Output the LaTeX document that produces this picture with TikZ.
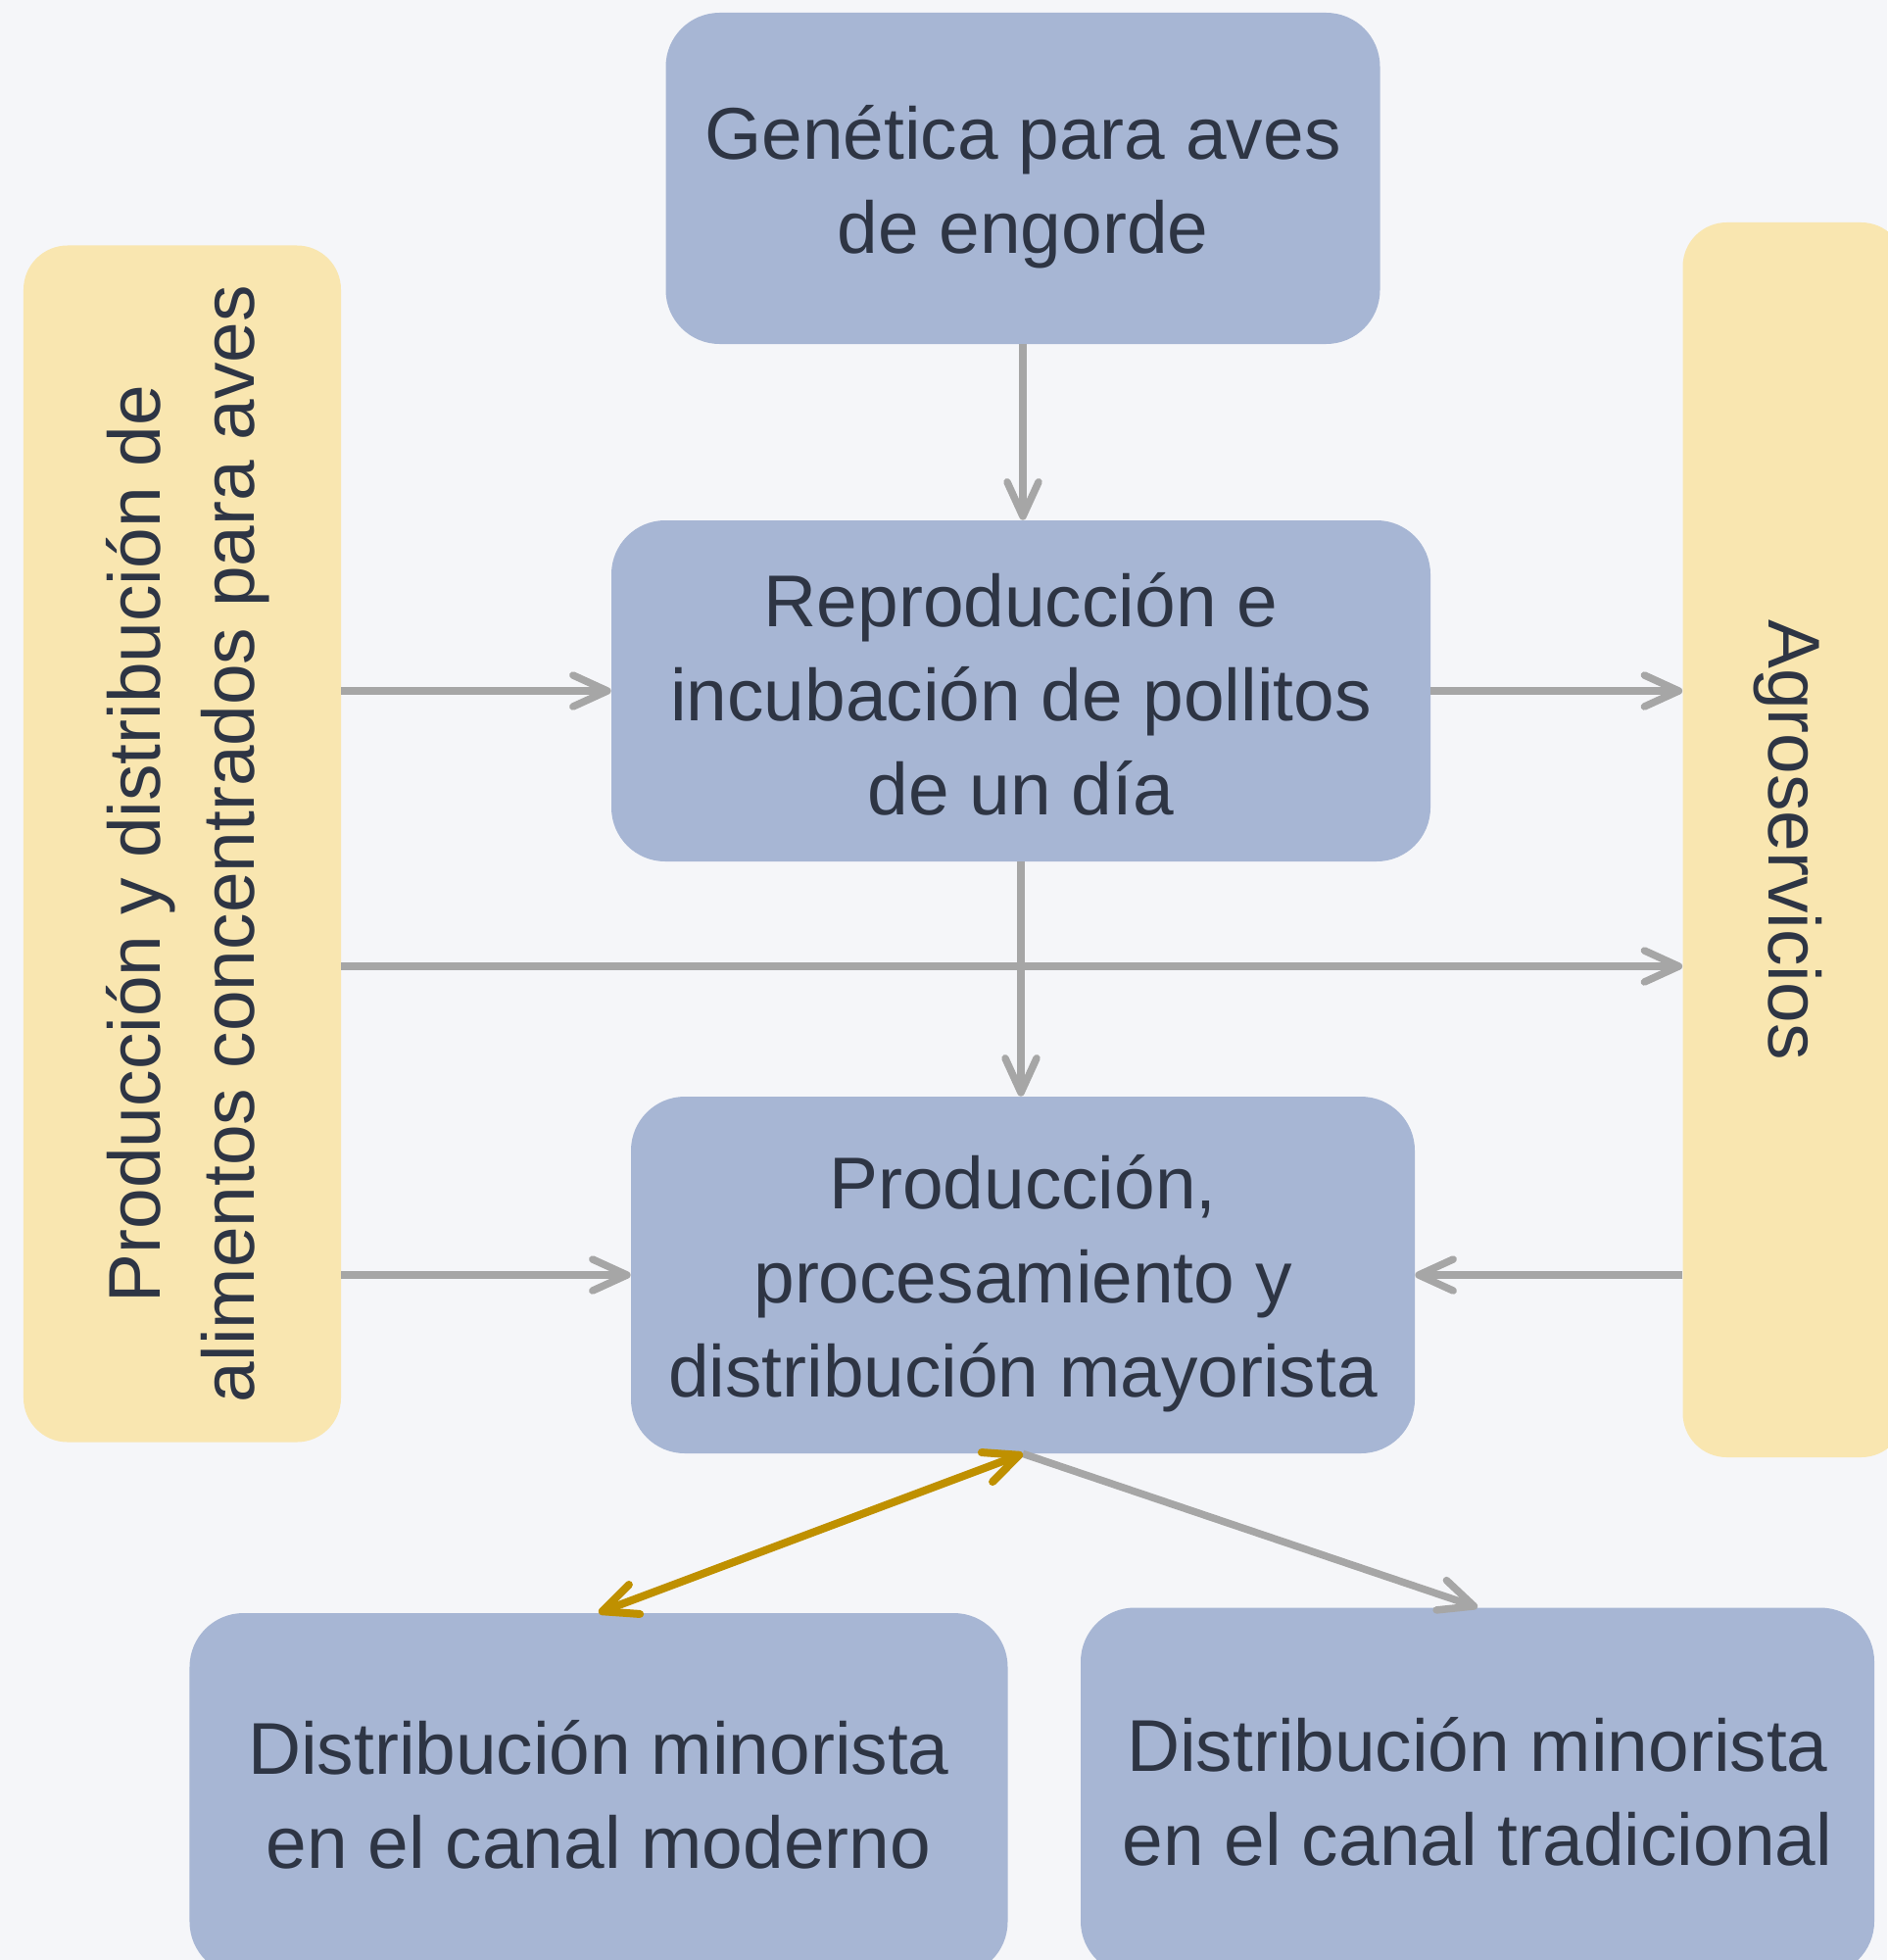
\documentclass[tikz,border=0pt]{standalone}
\usepackage{fontspec}
\setmainfont{Liberation Sans}
\usepackage{xcolor}
\usetikzlibrary{arrows.meta,positioning}
\definecolor{boxblue}{HTML}{A7B6D4}
\definecolor{boxyellow}{HTML}{F9E6B0}
\definecolor{bgpaper}{HTML}{F5F6F9}
\definecolor{txtdark}{HTML}{2E3544}
\definecolor{arrgray}{HTML}{A6A6A6}
\definecolor{arrgold}{HTML}{BF9000}
% strut to push the lines of a box a little down
\newcommand{\lift}[1]{\rule{0pt}{#1em}}

\begin{document}
\begin{tikzpicture}[x=0.2mm, y=-0.2mm,
  box/.style={fill=boxblue, rounded corners=11mm, align=center, text=txtdark, inner sep=0pt, font=\fontsize{42.6}{54.6}\selectfont},
  side/.style={fill=boxyellow, rounded corners=9mm, align=center, text=txtdark, inner sep=0pt, font=\fontsize{42.6}{54.6}\selectfont},
  arr/.style={-{Straight Barb[length=7mm,width=6.4mm,round]}, line width=1.5mm, draw=arrgray},
  twoway/.style={{Straight Barb[length=7mm,width=6.4mm,round]}-{Straight Barb[length=7mm,width=6.4mm,round]}, line width=1.6mm, draw=arrgold}
]
\useasboundingbox (0,0) rectangle (1926,2000);
\fill[bgpaper] (0,0) rectangle (1926,2000);

\node[box, minimum width=145.8mm, minimum height=67.6mm] (gen) at (1044,182) {\lift{0.98}Genética para aves\\de engorde};
\node[box, minimum width=167.2mm, minimum height=69.6mm] (rep) at (1042,705) {\lift{0.82}Reproducción e\\incubación de pollitos\\de un día};
\node[box, minimum width=160mm, minimum height=72.8mm] (prod) at (1044,1301) {\lift{0.98}Producción,\\procesamiento y\\distribución mayorista};
\node[box, minimum width=167mm, minimum height=74mm] (modern) at (611,1831) {Distribución minorista\\en el canal moderno};
\node[box, minimum width=162mm, minimum height=75mm] (trad) at (1508,1828) {Distribución minorista\\en el canal tradicional};
\node[side, rotate=90, minimum width=244.2mm, minimum height=64.8mm] (feed) at (186,861) {\lift{0.9}Producción y distribución de\\alimentos concentrados para aves};
\node[side, rotate=-90, minimum width=252mm, minimum height=45.4mm] (agro) at (1831,857) {\lift{0.9}Agroservicios};
\coordinate (cross) at (1044,986);

\draw[arr] (gen.south) -- (gen.south |- rep.north);
\draw[arr] (feed.south |- rep.west) -- (rep.west);
\draw[arr] (rep.east) -- (agro.south |- rep.east);
\draw[arr] (rep.south) -- (rep.south |- prod.north);
\draw[arr] (feed.south |- cross) -- (agro.south |- cross);
\draw[arr] (feed.south |- prod.west) -- (prod.west);
\draw[arr] (agro.south |- prod.east) -- (prod.east);
\draw[arr] (prod.south) -- (trad.north);
\draw[twoway] (modern.north) -- (prod.south);
\end{tikzpicture}
\end{document}
